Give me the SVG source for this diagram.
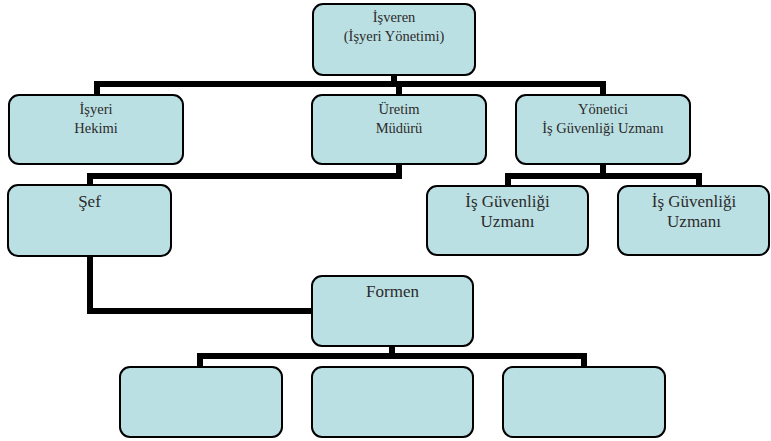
<svg xmlns="http://www.w3.org/2000/svg" width="771" height="441" viewBox="0 0 771 441">
<style>
.box{fill:#BBE0E3;stroke:#000;stroke-width:2}
.ln{fill:none;stroke:#000;stroke-width:6;stroke-linejoin:miter;stroke-linecap:butt}
.t{fill:#2b2b2b;text-anchor:middle}
.s1{font-size:14.5px}
.s2{font-size:17px}
</style>
<rect width="771" height="441" fill="#fff"/>
<g id="connectors">
<path class="ln" d="M394 75 V84"/>
<path class="ln" d="M97 95 V84 H603 V95"/>
<path class="ln" d="M399 84 V95"/>
<path class="ln" d="M399 164 V176 H90 V186"/>
<path class="ln" d="M603 164 V176"/>
<path class="ln" d="M508 186 V176 H699 V186"/>
<path class="ln" d="M90 256 V311 H312"/>
<path class="ln" d="M392 346 V356"/>
<path class="ln" d="M200 367 V356 H584 V367"/>
</g>
<g font-family="Liberation Serif, Times New Roman, serif">
<g id="isveren">
<rect class="box" x="313" y="4" width="162" height="71" rx="10"/>
<text class="t s1" x="394" y="22">İşveren</text>
<text class="t s1" x="394" y="41">(İşyeri Yönetimi)</text>
</g>
<g id="hekim">
<rect class="box" x="9" y="95" width="174" height="69" rx="10"/>
<text class="t s1" x="96" y="114">İşyeri</text>
<text class="t s1" x="96" y="133">Hekimi</text>
</g>
<g id="uretim">
<rect class="box" x="312" y="95" width="174" height="69" rx="10"/>
<text class="t s1" x="399" y="114">Üretim</text>
<text class="t s1" x="399" y="133">Müdürü</text>
</g>
<g id="yonetici">
<rect class="box" x="516" y="95" width="174" height="69" rx="10"/>
<text class="t s1" x="603" y="114">Yönetici</text>
<text class="t s1" x="603" y="133">İş Güvenliği Uzmanı</text>
</g>
<g id="sef">
<rect class="box" x="8" y="185" width="163" height="71" rx="10"/>
<text class="t s2" x="89.5" y="207">Şef</text>
</g>
<g id="isg1">
<rect class="box" x="427" y="186" width="161" height="69" rx="10"/>
<text class="t s2" x="507.5" y="207">İş Güvenliği</text>
<text class="t s2" x="507.5" y="227">Uzmanı</text>
</g>
<g id="isg2">
<rect class="box" x="618" y="186" width="151" height="69" rx="10"/>
<text class="t s2" x="694" y="207">İş Güvenliği</text>
<text class="t s2" x="694" y="227">Uzmanı</text>
</g>
<g id="formen">
<rect class="box" x="312" y="276" width="161" height="70" rx="10"/>
<text class="t s2" x="392.5" y="297">Formen</text>
</g>
<g id="alt1">
<rect class="box" x="120" y="367" width="162" height="70" rx="10"/>
</g>
<g id="alt2">
<rect class="box" x="312" y="367" width="161" height="70" rx="10"/>
</g>
<g id="alt3">
<rect class="box" x="503" y="367" width="162" height="70" rx="10"/>
</g>
</g>
</svg>
